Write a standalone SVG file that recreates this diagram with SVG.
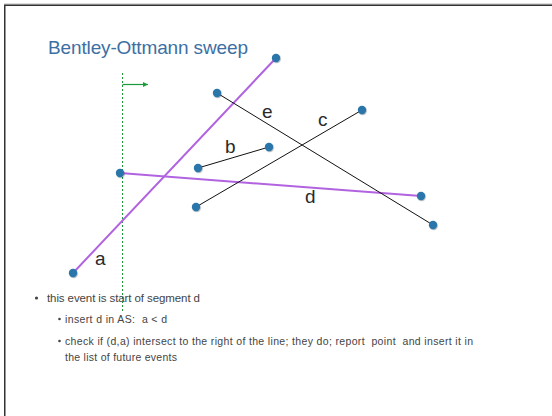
<svg xmlns="http://www.w3.org/2000/svg" width="552" height="416" viewBox="0 0 552 416">
<defs>
<style>
.frame{stroke:#333;stroke-width:1.5;fill:none}
.seg-p{stroke:#b163e0;stroke-width:2;stroke-linecap:round}
.seg-k{stroke:#111;stroke-width:1}
.pt{fill:#2c76aa}
.lbl{font-family:"Liberation Sans",Arial,sans-serif;font-size:19px;fill:#2a2a2a}
.title{font-family:"Liberation Sans",Arial,sans-serif;font-size:19px;fill:#3d6fa3}
.body{font-family:"Liberation Sans",Arial,sans-serif;fill:#444}
.sweep{stroke:#1a9a3a;stroke-width:1;stroke-dasharray:2,2}
</style>
<marker id="ah" viewBox="0 0 10 10" refX="10" refY="5" markerWidth="7" markerHeight="5" orient="auto" markerUnits="userSpaceOnUse">
<path d="M0,0 L10,5 L0,10 z" fill="#1a9a3a"/>
</marker>
<filter id="sh" x="-50%" y="-50%" width="200%" height="200%">
<feDropShadow dx="0.6" dy="0.8" stdDeviation="0.6" flood-color="#000" flood-opacity="0.35"/>
</filter>
</defs>
<rect width="552" height="416" fill="#fff"/>
<line x1="4" y1="4" x2="552" y2="4" stroke="#bbb" stroke-width="1"/>
<path class="frame" d="M4.75,416 V5.25 H552"/>
<text class="title" x="48" y="54" textLength="200">Bentley-Ottmann sweep</text>
<g id="connectors">
<line class="sweep" x1="122.5" y1="73" x2="122.5" y2="312"/>
<line x1="122.5" y1="84.5" x2="148" y2="84.5" stroke="#1a9a3a" stroke-width="1.2" marker-end="url(#ah)"/>
<line id="seg-a" class="seg-p" x1="73" y1="273" x2="276" y2="58"/>
<line id="seg-d" class="seg-p" x1="120" y1="173" x2="421" y2="196"/>
<line id="seg-e" class="seg-k" x1="217" y1="93" x2="433" y2="225"/>
<line id="seg-c" class="seg-k" x1="196" y1="207" x2="362" y2="110"/>
<line id="seg-b" class="seg-k" x1="198" y1="168" x2="269" y2="147"/>
</g>
<g id="pa1"><circle class="pt" cx="73" cy="273" r="4.2" filter="url(#sh)"/></g>
<g id="pa2"><circle class="pt" cx="276" cy="58" r="4.2" filter="url(#sh)"/></g>
<g id="pd1"><circle class="pt" cx="120" cy="173" r="4.2" filter="url(#sh)"/></g>
<g id="pd2"><circle class="pt" cx="421" cy="196" r="4.2" filter="url(#sh)"/></g>
<g id="pe1"><circle class="pt" cx="217" cy="93" r="4.2" filter="url(#sh)"/></g>
<g id="pe2"><circle class="pt" cx="433" cy="225" r="4.2" filter="url(#sh)"/></g>
<g id="pc1"><circle class="pt" cx="196" cy="207" r="4.2" filter="url(#sh)"/></g>
<g id="pc2"><circle class="pt" cx="362" cy="110" r="4.2" filter="url(#sh)"/></g>
<g id="pb1"><circle class="pt" cx="198" cy="168" r="4.2" filter="url(#sh)"/></g>
<g id="pb2"><circle class="pt" cx="269" cy="147" r="4.2" filter="url(#sh)"/></g>
<g id="labels">
<text class="lbl" x="262" y="118">e</text>
<text class="lbl" x="318" y="126">c</text>
<text class="lbl" x="225" y="153">b</text>
<text class="lbl" x="305" y="203">d</text>
<text class="lbl" x="95" y="265">a</text>
</g>
<g id="bullets">
<circle cx="36.5" cy="298" r="1.6" fill="#444"/>
<text class="body" x="47" y="302" font-size="11.5" textLength="153">this event is start of segment d</text>
<circle cx="59.5" cy="319" r="1.3" fill="#444"/>
<text class="body" x="65" y="323" font-size="10.5" textLength="102" xml:space="preserve">insert d in AS:  a &lt; d</text>
<circle cx="59.5" cy="341" r="1.3" fill="#444"/>
<text class="body" x="65" y="345" font-size="10.5" textLength="408" xml:space="preserve">check if (d,a) intersect to the right of the line; they do; report  point  and insert it in</text>
<text class="body" x="65" y="361" font-size="10.5" textLength="112">the list of future events</text>
</g>
</svg>
